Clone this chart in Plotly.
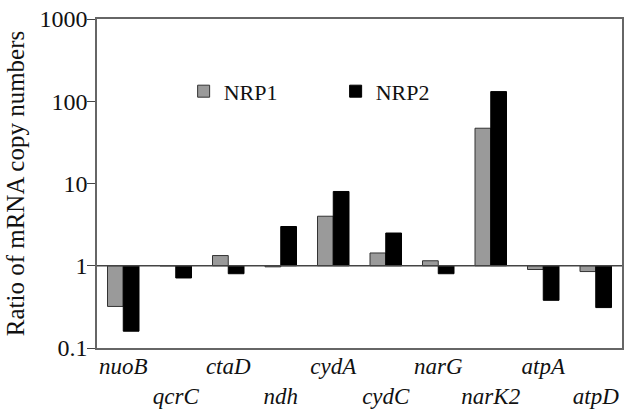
import plotly.graph_objects as go

genes = ["nuoB", "qcrC", "ctaD", "ndh", "cydA", "cydC", "narG", "narK2", "atpA", "atpD"]
nrp1 = [0.32, 1.0, 1.33, 0.97, 4.0, 1.43, 1.15, 47, 0.9, 0.85]
nrp2 = [0.16, 0.71, 0.80, 3.0, 8.0, 2.5, 0.80, 131, 0.38, 0.31]
ytick_vals = [0.1, 1, 10, 100, 1000]
ytick_text = ["0.1", "1", "10", "100", "1000"]

FONT = "Liberation Serif, Times New Roman, serif"
baseline = 1.0

ticktext = [g if i % 2 == 0 else "<br>" + g for i, g in enumerate(genes)]

fig = go.Figure()
fig.add_trace(go.Bar(
    x=genes, y=[v - baseline for v in nrp1], base=baseline, name="NRP1",
    marker=dict(color="#9a9a9a", line=dict(color="#333333", width=1)),
))
fig.add_trace(go.Bar(
    x=genes, y=[v - baseline for v in nrp2], base=baseline, name="NRP2",
    marker=dict(color="#000000", line=dict(color="#000000", width=1)),
))

shapes = [dict(type="line", xref="x domain", yref="y", x0=0, x1=1, y0=baseline, y1=baseline,
               line=dict(color="#444444", width=1.5))]
for i in range(len(genes) - 1):
    shapes.append(dict(type="line", xref="x", yref="y", xsizemode="scaled", ysizemode="pixel",
                       yanchor=baseline, x0=i + 0.5, x1=i + 0.5, y0=0, y1=-6,
                       line=dict(color="#444444", width=1.2)))

fig.update_layout(
    width=631, height=409,
    margin=dict(l=97, r=9, t=19, b=61),
    paper_bgcolor="white", plot_bgcolor="white",
    font=dict(family=FONT, color="#111111", size=20),
    barmode="group", bargap=0.4, bargroupgap=0,
    shapes=shapes,
    legend=dict(x=0.165, y=0.78, xanchor="left", yanchor="middle", orientation="h",
                font=dict(family=FONT, size=22, color="#111111"), itemwidth=30,
                entrywidth=107, entrywidthmode="pixels", bgcolor="rgba(0,0,0,0)"),
)
fig.update_xaxes(
    tickvals=genes, ticktext=ticktext, ticks="", showline=True, mirror=True, tickangle=0,
    linecolor="#666666", linewidth=1.5, automargin=False, ticklabelstandoff=-3,
    ticklabeloverflow="allow",
    tickfont=dict(family=FONT, size=23, style="italic", color="#111111"),
)
fig.update_yaxes(
    type="log", range=[-1, 3], tickvals=ytick_vals, ticktext=ytick_text,
    ticks="outside", ticklen=8, tickcolor="#444444", showline=True, mirror=True,
    linecolor="#666666", linewidth=1.5, showgrid=False, zeroline=False, automargin=False,
    ticklabelstandoff=-5, ticklabeloverflow="allow",
    tickfont=dict(family=FONT, size=24, color="#111111"),
    title=dict(text="Ratio of mRNA copy numbers", font=dict(family=FONT, size=25), standoff=8),
)

fig.write_html("out.html", config={"displayModeBar": False},
               post_script="document.body.style.margin='0px';")
